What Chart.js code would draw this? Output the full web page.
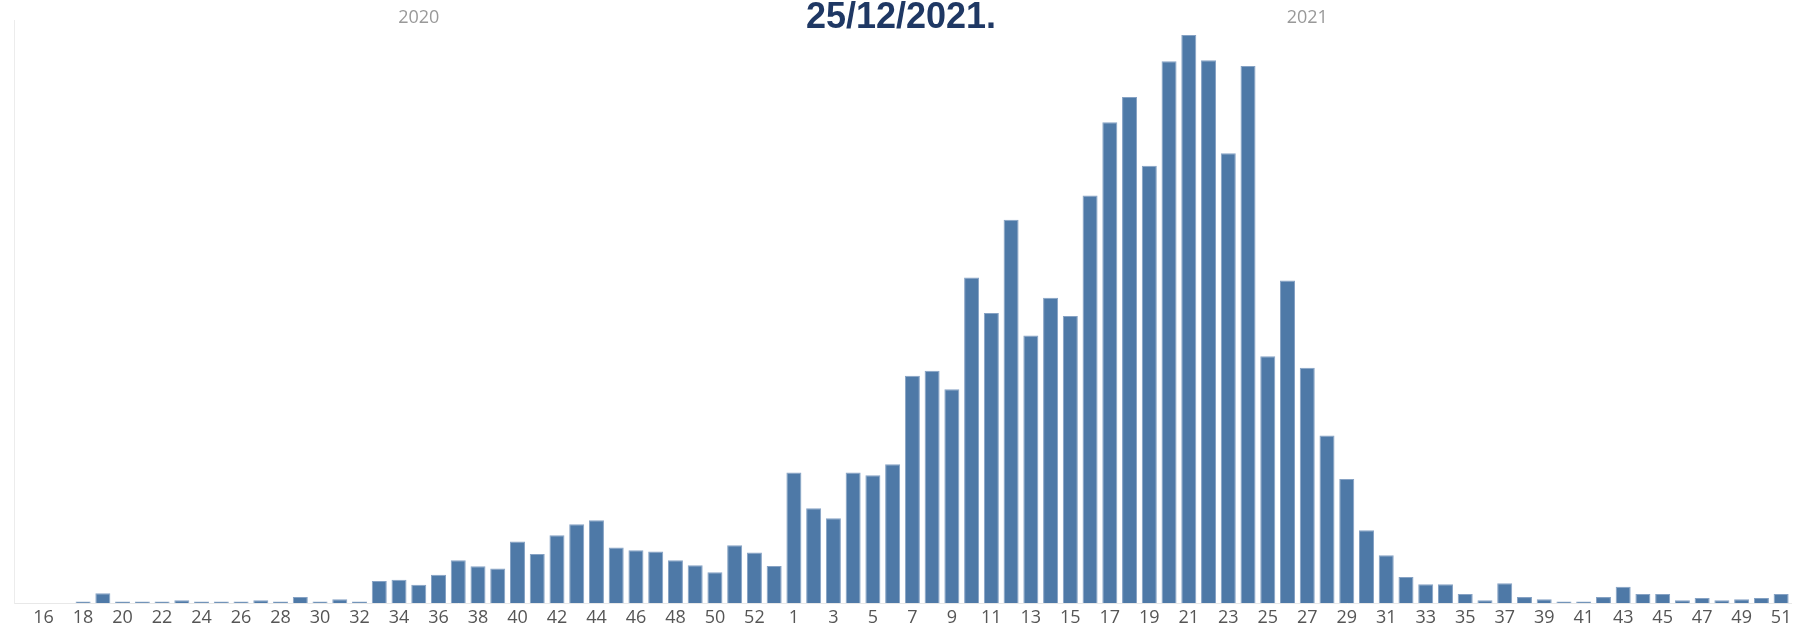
<!DOCTYPE html>
<html>
<head>
<meta charset="utf-8">
<script src="https://cdn.jsdelivr.net/npm/chart.js@4/dist/chart.umd.min.js"></script>
<style>
  html, body { margin: 0; padding: 0; background: #fff; }
  canvas { display: block; }
</style>
</head>
<body>
<canvas id="myChart" width="1798" height="633"></canvas>
<script>
// Semaines 2020 (15 à 53) et 2021 (1 à 51)
const weeks2020 = [15,16,17,18,19,20,21,22,23,24,25,26,27,28,29,30,31,32,33,34,35,36,37,38,39,40,41,42,43,44,45,46,47,48,49,50,51,52,53];
const values2020 = [0,0,0,1.2,8.4,1.2,1.2,1.2,2.3,1.2,1.2,1.2,2.3,1.2,5.2,1.2,3.2,1.2,19.2,20.3,16,24.7,37.2,32,30,53.5,42.7,59,68.6,72,48.3,46,44.8,37.2,32.8,26.7,50.3,43.9,32.3];

const weeks2021 = [1,2,3,4,5,6,7,8,9,10,11,12,13,14,15,16,17,18,19,20,21,22,23,24,25,26,27,28,29,30,31,32,33,34,35,36,37,38,39,40,41,42,43,44,45,46,47,48,49,50,51];
const values2021 = [113.7,82.6,73.8,113.7,111.4,121,198,202.3,186.3,283.7,252.6,334,233,266,250,355,419,441,381,472,495,473,392,468,215,281,205,146,108,63.4,41.6,22.7,16.3,16.3,7.8,2.3,17.2,5.2,3.2,1.2,1.2,5.2,14.2,7.8,7.8,2.3,4.4,2.3,3.2,4.4,7.8];

const years = ['2020', '2021'];
const title = '25/12/2021.';

const labels = weeks2020.map(String).concat(weeks2021.map(String));
const values = values2020.concat(values2021);

// Titre et années dessinés au-dessus du graphique
const headerPlugin = {
    id: 'header',
    afterDraw(chart) {
        const ctx = chart.ctx;
        const x = chart.scales.x;
        ctx.save();
        ctx.textAlign = 'center';
        ctx.textBaseline = 'middle';
        ctx.fillStyle = '#999999';
        ctx.font = '18px "Open Sans"';
        const mid2020 = Math.round((weeks2020.length - 1) / 2) + 1;
        const mid2021 = weeks2020.length + Math.round((weeks2021.length - 1) / 2) + 1;
        ctx.fillText(years[0], x.getPixelForValue(mid2020), 18);
        ctx.fillText(years[1], x.getPixelForValue(mid2021), 18);
        ctx.fillStyle = '#1f3864';
        ctx.font = 'bold 36px "Liberation Sans", Arial, sans-serif';
        ctx.fillText(title, 901, 18);
        ctx.restore();
    }
};

const ctx = document.getElementById('myChart').getContext('2d');
new Chart(ctx, {
    type: 'bar',
    data: {
        labels: labels,
        datasets: [{
            data: values,
            backgroundColor: '#4e79a7',
            borderColor: '#86a2c4',
            borderWidth: 1,
            barPercentage: 0.76,
            categoryPercentage: 1.0,
        }],
    },
    options: {
        responsive: false,
        animation: false,
        devicePixelRatio: 1,
        layout: {
            padding: { left: 14, right: 7, top: 20, bottom: 0 },
        },
        plugins: {
            legend: { display: false },
            tooltip: { enabled: false },
        },
        scales: {
            x: {
                grid: { display: false, drawTicks: false },
                border: { display: true, color: '#e8e8e8' },
                ticks: {
                    autoSkip: false,
                    maxRotation: 0,
                    padding: 6,
                    color: '#555555',
                    font: { family: 'Open Sans', size: 18, lineHeight: 1 },
                    callback: function (value, index) {
                        return index % 2 === 1 ? this.getLabelForValue(value) : '';
                    },
                },
            },
            y: {
                min: 0,
                max: 508,
                grid: { display: false, drawTicks: false },
                border: { display: true, color: '#ececec' },
                ticks: { display: false },
            },
        },
    },
    plugins: [headerPlugin],
});
</script>
</body>
</html>
